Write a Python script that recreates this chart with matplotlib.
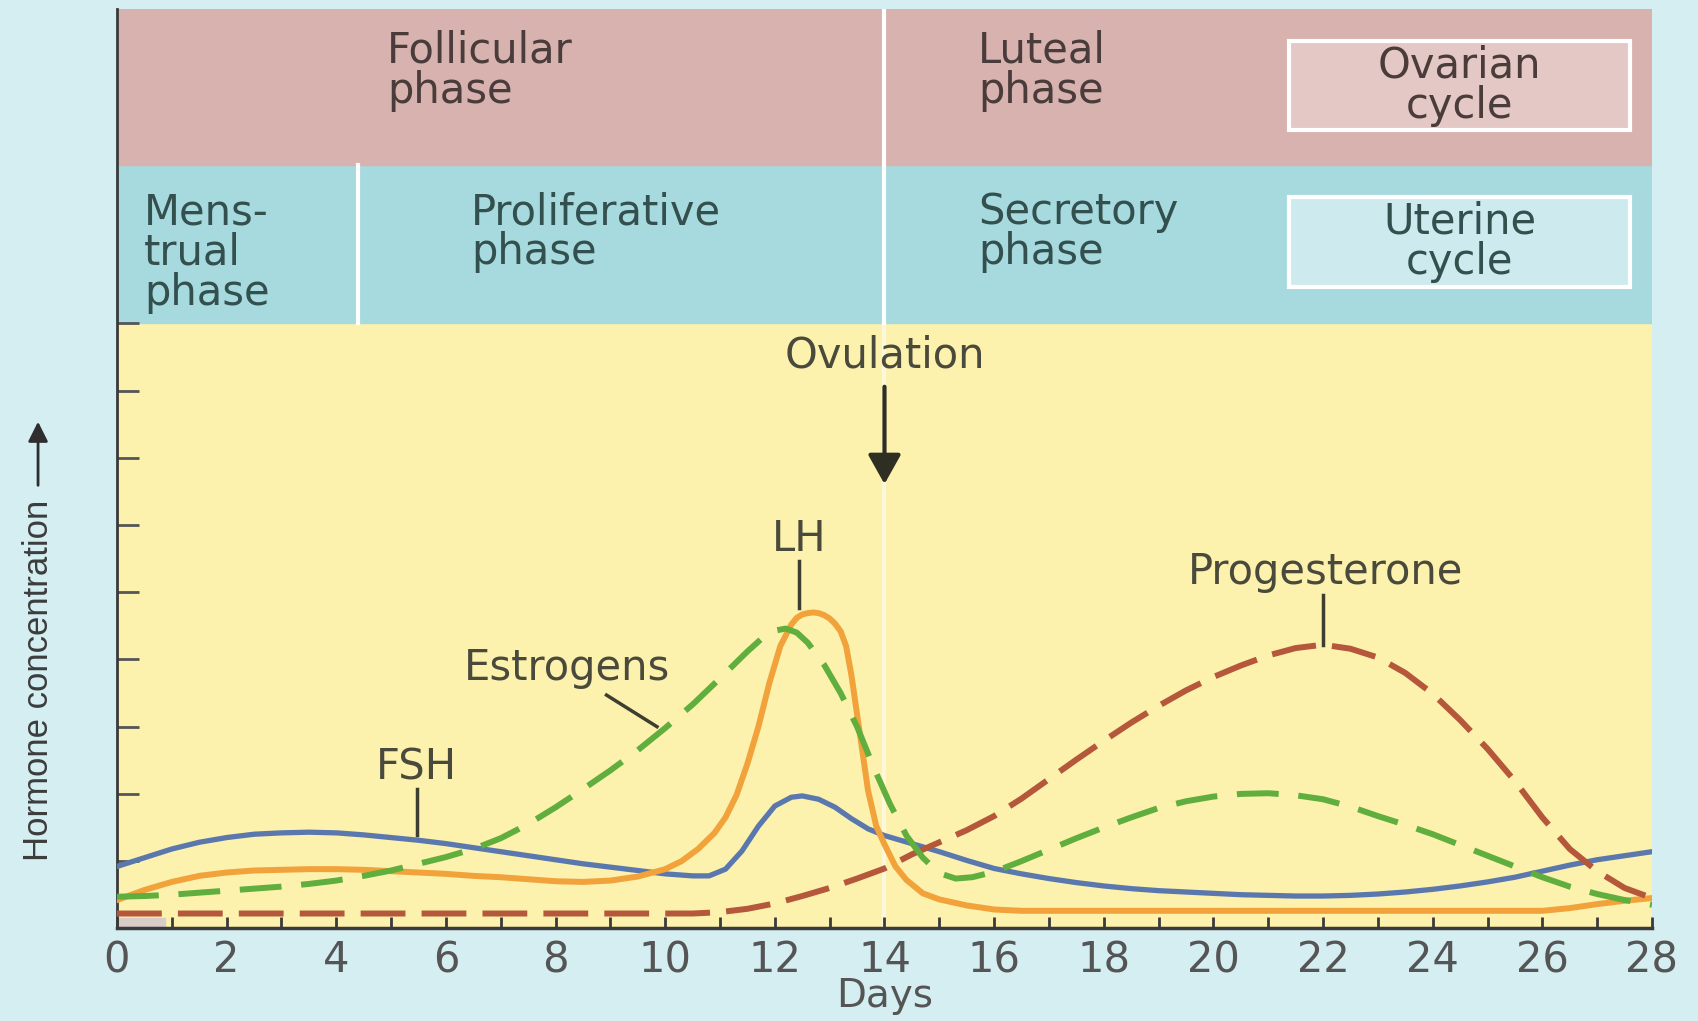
import matplotlib.pyplot as plt
from matplotlib.patches import Rectangle

# Hormone levels (arbitrary units, 0-9 scale)
fsh_days = [0, 0.5, 1, 1.5, 2, 2.5, 3, 3.5, 4, 4.5, 5, 5.5, 6, 6.5, 7, 7.5, 8, 8.5, 9, 9.5,
            10, 10.5, 10.8, 11.1, 11.4, 11.7, 12.0, 12.3, 12.5, 12.8, 13.1, 13.4, 13.7, 14,
            14.5, 15, 15.5, 16, 16.5, 17, 17.5, 18, 18.5, 19, 19.5, 20, 20.5, 21, 21.5, 22,
            22.5, 23, 23.5, 24, 24.5, 25, 25.5, 26, 26.5, 27, 27.5, 28]
fsh_vals = [0.92, 1.05, 1.18, 1.28, 1.35, 1.40, 1.42, 1.43, 1.42, 1.39, 1.35, 1.31, 1.26, 1.20,
            1.14, 1.08, 1.02, 0.96, 0.91, 0.86, 0.81, 0.78, 0.78, 0.88, 1.15, 1.52, 1.82, 1.95,
            1.97, 1.92, 1.80, 1.63, 1.48, 1.38, 1.26, 1.14, 1.01, 0.89, 0.81, 0.74, 0.68, 0.63,
            0.59, 0.56, 0.54, 0.52, 0.50, 0.49, 0.48, 0.48, 0.49, 0.51, 0.54, 0.58, 0.63, 0.69,
            0.76, 0.85, 0.94, 1.02, 1.08, 1.14]

lh_days = [0, 0.5, 1, 1.5, 2, 2.5, 3, 3.5, 4, 4.5, 5, 5.5, 6, 6.5, 7, 7.5, 8, 8.5, 9, 9.5,
           10, 10.3, 10.6, 10.9, 11.1, 11.3, 11.5, 11.7, 11.9, 12.1, 12.3, 12.4, 12.5, 12.6,
           12.7, 12.8, 12.9, 13.0, 13.1, 13.2, 13.3, 13.4, 13.55, 13.7, 13.85, 14.0, 14.2,
           14.4, 14.7, 15.0, 15.5, 16, 16.5, 18, 20, 22, 24, 26, 26.5, 27, 27.5, 28]
lh_vals = [0.42, 0.57, 0.69, 0.78, 0.83, 0.86, 0.87, 0.88, 0.88, 0.87, 0.85, 0.83, 0.81, 0.78,
           0.76, 0.73, 0.70, 0.69, 0.71, 0.77, 0.88, 1.00, 1.18, 1.42, 1.65, 1.98, 2.45, 3.00,
           3.65, 4.20, 4.52, 4.62, 4.67, 4.69, 4.70, 4.69, 4.66, 4.61, 4.53, 4.42, 4.20, 3.75,
           2.90, 2.05, 1.52, 1.25, 0.92, 0.72, 0.52, 0.43, 0.34, 0.28, 0.26, 0.26, 0.26, 0.26,
           0.26, 0.26, 0.30, 0.36, 0.41, 0.45]

est_days = [0, 0.5, 1, 1.5, 2, 2.5, 3, 3.5, 4, 4.5, 5, 5.5, 6, 6.5, 7, 7.5, 8, 8.5, 9, 9.5,
            10, 10.5, 11, 11.5, 11.8, 12.0, 12.2, 12.4, 12.6, 12.9, 13.2, 13.5, 13.8, 14.1,
            14.4, 14.7, 15.0, 15.3, 15.6, 16, 16.5, 17, 17.5, 18, 18.5, 19, 19.5, 20, 20.5, 21,
            21.5, 22, 22.5, 23, 23.5, 24, 24.5, 25, 25.5, 26, 26.5, 27, 27.5, 28]
est_vals = [0.47, 0.48, 0.50, 0.53, 0.56, 0.59, 0.62, 0.66, 0.71, 0.78, 0.86, 0.96, 1.06, 1.18,
            1.34, 1.55, 1.80, 2.07, 2.35, 2.65, 2.98, 3.33, 3.72, 4.12, 4.34, 4.43, 4.46, 4.40,
            4.25, 3.92, 3.50, 3.00, 2.40, 1.85, 1.38, 1.05, 0.82, 0.74, 0.76, 0.84, 1.00, 1.17,
            1.34, 1.50, 1.65, 1.79, 1.89, 1.96, 2.00, 2.01, 1.98, 1.92, 1.81, 1.67, 1.54, 1.40,
            1.24, 1.08, 0.92, 0.76, 0.62, 0.51, 0.42, 0.35]

prog_days = [0, 2, 4, 6, 8, 10, 10.5, 11, 11.5, 12, 12.5, 13, 13.5, 14, 14.5, 15, 15.5, 16,
             16.5, 17, 17.5, 18, 18.5, 19, 19.5, 20, 20.5, 21, 21.5, 22, 22.5, 23, 23.5, 24,
             24.5, 25, 25.5, 26, 26.5, 27, 27.5, 28]
prog_vals = [0.22, 0.22, 0.22, 0.22, 0.22, 0.22, 0.22, 0.24, 0.29, 0.37, 0.48, 0.60, 0.74, 0.89,
             1.10, 1.28, 1.46, 1.67, 1.93, 2.22, 2.51, 2.79, 3.06, 3.31, 3.54, 3.74, 3.91, 4.06,
             4.17, 4.22, 4.16, 4.03, 3.80, 3.49, 3.10, 2.67, 2.19, 1.65, 1.18, 0.85, 0.60, 0.45]

ovulation_day = 14
menstrual_end = 4.4

text_col = '#4a4a3c'

fig = plt.figure(figsize=(16.98, 10.21), dpi=100)
fig.patch.set_facecolor('#d4eef2')
ax = fig.add_axes([0.0689, 0.0908, 0.904, 0.9004])
ax.set_xlim(0, 28)
ax.set_ylim(0, 13.68)
ax.set_facecolor('none')

# background bands: hormone area, uterine cycle, ovarian cycle
ax.axhspan(0, 9, color='#fcf1ad', zorder=0)
ax.axhspan(9, 11.36, color='#a6dadf', zorder=0)
ax.axhspan(11.36, 13.68, color='#d7b2ae', zorder=0)

# phase dividers
ax.plot([ovulation_day, ovulation_day], [9, 13.68], color='white', lw=3, zorder=1)
ax.plot([ovulation_day, ovulation_day], [0, 9], color='white', lw=3, alpha=0.55, zorder=1)
ax.plot([menstrual_end, menstrual_end], [9, 11.36], color='white', lw=3, zorder=1)
ax.add_patch(Rectangle((0, 0), 0.87, 0.15, color='#d9cbc6', zorder=1))

# legend-like boxes
ax.add_patch(Rectangle((21.38, 11.88), 6.22, 1.32, fc='#e4c8c5', ec='white', lw=3, zorder=1))
ax.add_patch(Rectangle((21.38, 9.54), 6.22, 1.34, fc='#cdeaee', ec='white', lw=3, zorder=1))

fs = 30
ax.text(24.49, 12.54, 'Ovarian\ncycle', ha='center', va='center', fontsize=fs,
        color='#4a3c3a', linespacing=0.95)
ax.text(24.49, 10.21, 'Uterine\ncycle', ha='center', va='center', fontsize=fs,
        color='#34504e', linespacing=0.95)
ax.text(4.93, 13.37, 'Follicular\nphase', ha='left', va='top', fontsize=fs,
        color='#4a3c3a', linespacing=0.95)
ax.text(15.71, 13.37, 'Luteal\nphase', ha='left', va='top', fontsize=fs,
        color='#4a3c3a', linespacing=0.95)
ax.text(0.49, 10.97, 'Mens-\ntrual\nphase', ha='left', va='top', fontsize=fs,
        color='#34504e', linespacing=0.95)
ax.text(6.46, 10.97, 'Proliferative\nphase', ha='left', va='top', fontsize=fs,
        color='#34504e', linespacing=0.95)
ax.text(15.71, 10.97, 'Secretory\nphase', ha='left', va='top', fontsize=fs,
        color='#34504e', linespacing=0.95)

# hormone curves
ax.plot(fsh_days, fsh_vals, color='#5a78ae', lw=3.8, zorder=4)
ax.plot(lh_days, lh_vals, color='#f2a23a', lw=4.3, zorder=5)
ax.plot(prog_days, prog_vals, color='#b5573a', lw=4.3, ls=(0, (7.5, 2.7)), zorder=6)
ax.plot(est_days, est_vals, color='#5fae3e', lw=4.3, ls=(0, (7, 3.3)), zorder=7)

# curve labels with leader lines
lead = dict(color='#3e3e30', lw=2.5, zorder=8)
ax.text(12.44, 5.79, 'LH', ha='center', va='center', fontsize=fs, color=text_col)
ax.plot([12.44, 12.44], [5.46, 4.76], **lead)
ax.text(8.2, 3.87, 'Estrogens', ha='center', va='center', fontsize=fs, color=text_col)
ax.plot([8.93, 9.85], [3.47, 3.0], **lead)
ax.text(5.47, 2.40, 'FSH', ha='center', va='center', fontsize=fs, color=text_col)
ax.plot([5.47, 5.47], [2.08, 1.39], **lead)
ax.text(22.04, 5.30, 'Progesterone', ha='center', va='center', fontsize=fs, color=text_col)
ax.plot([22.0, 22.0], [4.96, 4.22], **lead)

ax.text(ovulation_day, 8.53, 'Ovulation', ha='center', va='center', fontsize=fs, color=text_col)
ax.annotate('', xy=(ovulation_day, 6.57), xytext=(ovulation_day, 8.10),
            arrowprops=dict(arrowstyle='-|>,head_length=0.5,head_width=0.28',
                            lw=3, color='#2e2e22', mutation_scale=36))

# y axis label with arrow
ax.text(-1.44, 3.69, 'Hormone concentration', rotation=90, ha='center', va='center',
        fontsize=25, family='Liberation Sans', color='#3c3c3c')
ax.annotate('', xy=(-1.44, 7.58), xytext=(-1.44, 6.55), annotation_clip=False,
            arrowprops=dict(arrowstyle='-|>,head_length=0.5,head_width=0.25',
                            lw=2, color='#2e2e2e', mutation_scale=24))

# axes
ax.set_xticks(range(0, 29, 2))
ax.set_xticks(range(0, 29), minor=True)
ax.tick_params(axis='x', which='both', direction='in', length=8, width=2, color='#3a3a3a',
               labelsize=fs, labelcolor='#555555', pad=8)
ax.set_yticks(range(1, 10))
ax.set_yticklabels([])
ax.tick_params(axis='y', direction='in', length=16, width=2, color='#555555')
ax.set_xlabel('Days', fontsize=28, color='#555555', labelpad=-3)
for s in ['top', 'right']:
    ax.spines[s].set_visible(False)
ax.spines['left'].set_linewidth(2)
ax.spines['left'].set_color('#3a3a3a')
ax.spines['bottom'].set_linewidth(2.5)
ax.spines['bottom'].set_color('#3a3a3a')

fig.savefig('out.png', dpi=100, facecolor=fig.get_facecolor())
